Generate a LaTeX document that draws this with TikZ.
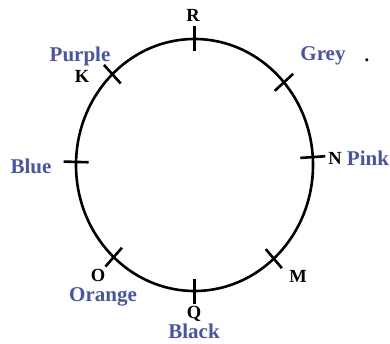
\documentclass[tikz,border=0pt]{standalone}
\usepackage{fontspec}
\setmainfont{Liberation Serif}
\usetikzlibrary{calc}
\definecolor{lblblue}{RGB}{72,84,168}
\begin{document}
\begin{tikzpicture}[x=1pt,y=1pt,
  ring/.style={line width=2.6pt,black},
  tickmark/.style={line width=2.6pt,black},
  colourlbl/.style={font=\bfseries\fontsize{21}{21}\selectfont,text=lblblue,inner sep=0pt},
  letterlbl/.style={font=\bfseries\fontsize{18.5}{18.5}\selectfont,text=black,inner sep=0pt}]
\useasboundingbox (0,0) rectangle (390,343);
\coordinate (c) at (194.5,178);
\draw[ring] (c) ellipse [x radius=118.5, y radius=126];
% tick points on the ring
\foreach \nm/\ang in {r/90,n/3.6,blue/178.6,k/133.9,grey/41,o/227,m/312,q/270}{
  \coordinate (\nm) at ($(c)+(\ang:118.5 and 126)$);
  \draw[tickmark] ($(\nm)!12.5pt!(c)$) -- ($(\nm)!-12.5pt!(c)$);
}
% labels
\node[letterlbl] (lR) at (193,328) {R};
\node[colourlbl] (lPurple) at (80,287) {Purple};
\node[letterlbl] (lK) at (82,267) {K};
\node[colourlbl] (lGrey) at (323,287) {Grey};
\node[letterlbl] (ldot) at (367,283) {.};
\node[colourlbl] (lBlue) at (31,177) {Blue};
\node[letterlbl] (lN) at (335,185) {N};
\node[colourlbl] (lPink) at (368,185) {Pink};
\node[letterlbl] (lO) at (98,68) {O};
\node[colourlbl] (lOrange) at (103,46) {Orange};
\node[letterlbl] (lQ) at (194,29) {Q};
\node[colourlbl] (lBlack) at (194,11.5) {Black};
\node[letterlbl] (lM) at (298,67) {M};
\end{tikzpicture}
\end{document}
